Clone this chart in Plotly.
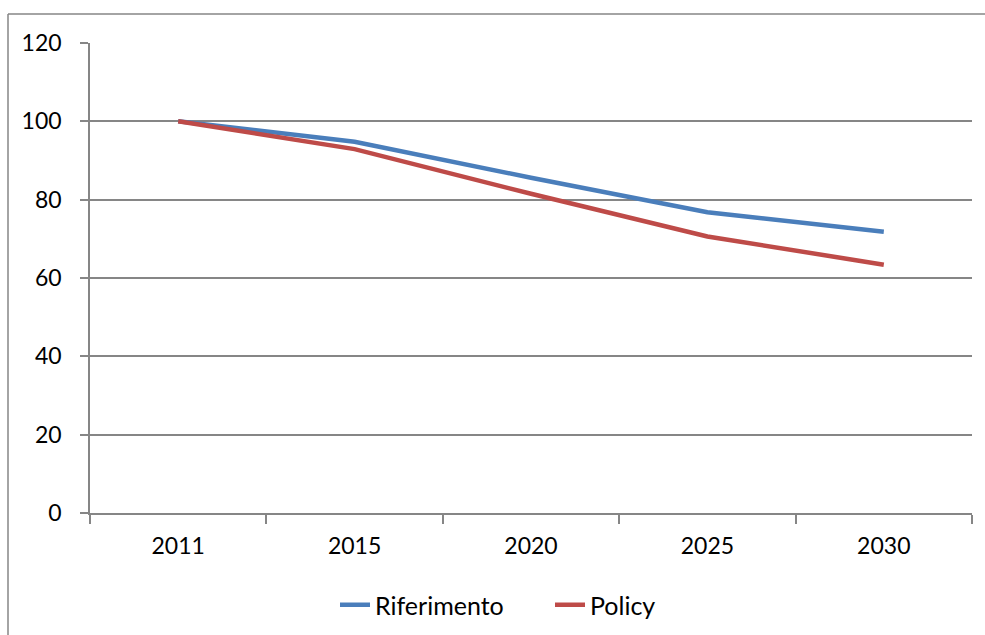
import plotly.graph_objects as go

years = ["2011", "2015", "2020", "2025", "2030"]
riferimento = [100, 94.8, 85.6, 76.8, 71.8]
policy = [100, 92.9, 81.5, 70.6, 63.4]
y_ticks = [0, 20, 40, 60, 80, 100, 120]

FONT = "Lato"
fig = go.Figure()
fig.add_trace(go.Scatter(x=years, y=riferimento, name="Riferimento", mode="lines",
                         line=dict(color="#4A7EBB", width=4.5)))
fig.add_trace(go.Scatter(x=years, y=policy, name="Policy", mode="lines",
                         line=dict(color="#BE4B48", width=4.5)))

L, R, T, B = 90, 13, 43, 122
W, H = 985, 635
pw = W - L - R
ph = H - T - B

def px(x):
    return (x - L) / pw

def py(y):
    return (H - B - y) / ph

fig.update_layout(
    width=W, height=H,
    margin=dict(l=L, r=R, t=T, b=B, autoexpand=False),
    paper_bgcolor="white", plot_bgcolor="white",
    font=dict(family=FONT, size=23, color="#000000"),
    showlegend=True,
    legend=dict(orientation="h", x=px(550), xanchor="center", y=py(605), yanchor="middle",
                font=dict(family=FONT, size=25), bgcolor="rgba(0,0,0,0)",
                entrywidth=170, tracegroupgap=0),
    xaxis=dict(type="category", range=[-0.5, 4.5], showgrid=False, showline=True,
               linecolor="#868686", linewidth=1.5,
               ticks="outside", tickson="boundaries", ticklen=9, tickcolor="#868686", tickwidth=1.5,
               ticklabelstandoff=12, zeroline=False, fixedrange=True, automargin=False),
    yaxis=dict(range=[0, 120], tickvals=y_ticks, showgrid=True, gridcolor="#868686", gridwidth=1.5,
               showline=True, linecolor="#868686", linewidth=1.5,
               ticks="outside", ticklen=8, tickcolor="#868686", tickwidth=1.5,
               ticklabelstandoff=14, zeroline=False, fixedrange=True, automargin=False),
    shapes=[
        dict(type="line", xref="paper", yref="paper", x0=px(8), x1=px(8), y0=py(14), y1=py(640),
             line=dict(color="#868686", width=1.5)),
        dict(type="line", xref="paper", yref="paper", x0=px(8), x1=px(990), y0=py(14), y1=py(14),
             line=dict(color="#868686", width=1.5)),
    ],
)

fig.write_html("out.html")
